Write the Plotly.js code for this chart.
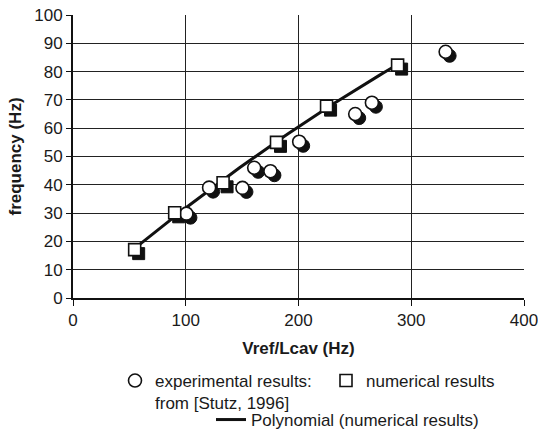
<!DOCTYPE html>
<html>
<head>
<meta charset="utf-8">
<script src="https://cdn.plot.ly/plotly-3.0.1.min.js"></script>
<style>
  html, body { margin: 0; padding: 0; background: #fff; }
  #chart { width: 538px; height: 432px; }
</style>
</head>
<body>
<div id="chart"></div>
<script>
// Experimental results (Stutz, 1996)
const expX = [100.6, 120.7, 150.3, 160.7, 175.1, 200.6, 250.3, 265.1, 330.5];
const expY = [29.8, 39.0, 38.9, 46.0, 44.8, 55.2, 65.0, 69.0, 87.0];

// Numerical results
const numX = [54.7, 90.2, 133.1, 180.5, 224.9, 287.9];
const numY = [17.1, 30.1, 40.7, 55.0, 67.8, 82.3];

// Axis ticks
const xTicks = [0, 100, 200, 300, 400];
const yTicks = [0, 10, 20, 30, 40, 50, 60, 70, 80, 90, 100];

// Second-order least-squares trendline through the numerical results
function quadFit(xs, ys) {
  const s = [0, 0, 0, 0, 0], t = [0, 0, 0];
  xs.forEach((x, i) => {
    let p = 1;
    for (let k = 0; k < 5; k++) { s[k] += p; if (k < 3) t[k] += p * ys[i]; p *= x; }
  });
  const A = [[s[0], s[1], s[2], t[0]], [s[1], s[2], s[3], t[1]], [s[2], s[3], s[4], t[2]]];
  for (let c = 0; c < 3; c++) {
    for (let r = c + 1; r < 3; r++) {
      const f = A[r][c] / A[c][c];
      for (let k = c; k < 4; k++) A[r][k] -= f * A[c][k];
    }
  }
  const b = [0, 0, 0];
  for (let r = 2; r >= 0; r--) {
    let v = A[r][3];
    for (let k = r + 1; k < 3; k++) v -= A[r][k] * b[k];
    b[r] = v / A[r][r];
  }
  return x => b[0] + b[1] * x + b[2] * x * x;
}
const poly = quadFit(numX, numY);
const fitX = [], fitY = [];
const x0 = Math.min(...numX), x1 = Math.max(...numX);
for (let i = 0; i <= 60; i++) {
  const x = x0 + (x1 - x0) * i / 60;
  fitX.push(x); fitY.push(poly(x));
}

const plotW = 538 - 73 - 14, plotH = 432 - 15 - 134;
const shadowPx = 4;
const dx = shadowPx * 400 / plotW, dy = shadowPx * 100 / plotH;

const traces = [
  // trendline on the main axes
  { x: fitX, y: fitY, mode: 'lines', legend: 'legend2',
    name: 'Polynomial (numerical results)', line: { color: '#111', width: 3 } },
  // dark drop shadows, on a slightly offset axis pair
  { x: expX, y: expY, xaxis: 'x2', yaxis: 'y2', mode: 'markers', showlegend: false, hoverinfo: 'skip',
    marker: { symbol: 'circle', size: 13, color: '#111', line: { color: '#111', width: 1 } } },
  { x: numX, y: numY, xaxis: 'x2', yaxis: 'y2', mode: 'markers', showlegend: false, hoverinfo: 'skip',
    marker: { symbol: 'square', size: 12, color: '#111', line: { color: '#111', width: 1 } } },
  // open markers
  { x: expX, y: expY, xaxis: 'x3', yaxis: 'y3', mode: 'markers',
    name: 'experimental results:<br>from [Stutz, 1996]',
    marker: { symbol: 'circle', size: 13, color: '#fff', line: { color: '#111', width: 1.6 } } },
  { x: numX, y: numY, xaxis: 'x3', yaxis: 'y3', mode: 'markers', name: 'numerical results',
    marker: { symbol: 'square', size: 12, color: '#fff', line: { color: '#111', width: 1.6 } } }
];

const tickFont = { family: 'Liberation Sans, Arial, sans-serif', size: 17, color: '#1a1a1a' };
const hidden = { visible: false, showgrid: false, zeroline: false, fixedrange: true };

const layout = {
  width: 538, height: 432,
  margin: { l: 73, r: 14, t: 15, b: 134, autoexpand: false },
  paper_bgcolor: '#fff', plot_bgcolor: '#fff',
  font: { family: 'Liberation Sans, Arial, sans-serif', color: '#1a1a1a' },
  showlegend: true,
  xaxis: {
    range: [0, 400], tickvals: xTicks, ticktext: xTicks.map(String),
    showgrid: true, gridcolor: '#222', gridwidth: 1,
    showline: true, linecolor: '#111', linewidth: 2, zeroline: false,
    ticks: 'outside', ticklen: 6, tickwidth: 1, tickcolor: '#111',
    tickfont: tickFont, ticklabeloverflow: 'allow',
    title: { text: '<b>Vref/Lcav (Hz)</b>', font: { size: 17 }, standoff: 13 }
  },
  yaxis: {
    range: [0, 100], tickvals: yTicks, ticktext: yTicks.map(String),
    showgrid: true, gridcolor: '#222', gridwidth: 1,
    showline: true, linecolor: '#111', linewidth: 2, zeroline: false,
    ticks: 'outside', ticklen: 5, tickwidth: 1, tickcolor: '#111',
    tickfont: tickFont, ticklabeloverflow: 'allow',
    title: { text: '<b>frequency (Hz)</b>', font: { size: 17 }, standoff: 8 }
  },
  xaxis2: Object.assign({ overlaying: 'x', range: [-dx, 400 - dx] }, hidden),
  yaxis2: Object.assign({ overlaying: 'y', range: [dy, 100 + dy] }, hidden),
  xaxis3: Object.assign({ overlaying: 'x', range: [0, 400] }, hidden),
  yaxis3: Object.assign({ overlaying: 'y', range: [0, 100] }, hidden),
  legend: {
    orientation: 'h', xref: 'container', yref: 'container',
    x: 115 / 538, xanchor: 'left',
    y: 1 - 363 / 432, yanchor: 'top',
    entrywidth: 166, entrywidthmode: 'pixels', valign: 'top',
    bgcolor: 'rgba(0,0,0,0)', borderwidth: 0,
    font: { size: 17, color: '#1a1a1a' }
  },
  legend2: {
    orientation: 'h', xref: 'container', yref: 'container',
    x: 211 / 538, xanchor: 'left',
    y: 1 - 402 / 432, yanchor: 'top',
    bgcolor: 'rgba(0,0,0,0)', borderwidth: 0,
    font: { size: 17, color: '#1a1a1a' }
  }
};

Plotly.newPlot('chart', traces, layout, { displayModeBar: false, staticPlot: true });
</script>
</body>
</html>
